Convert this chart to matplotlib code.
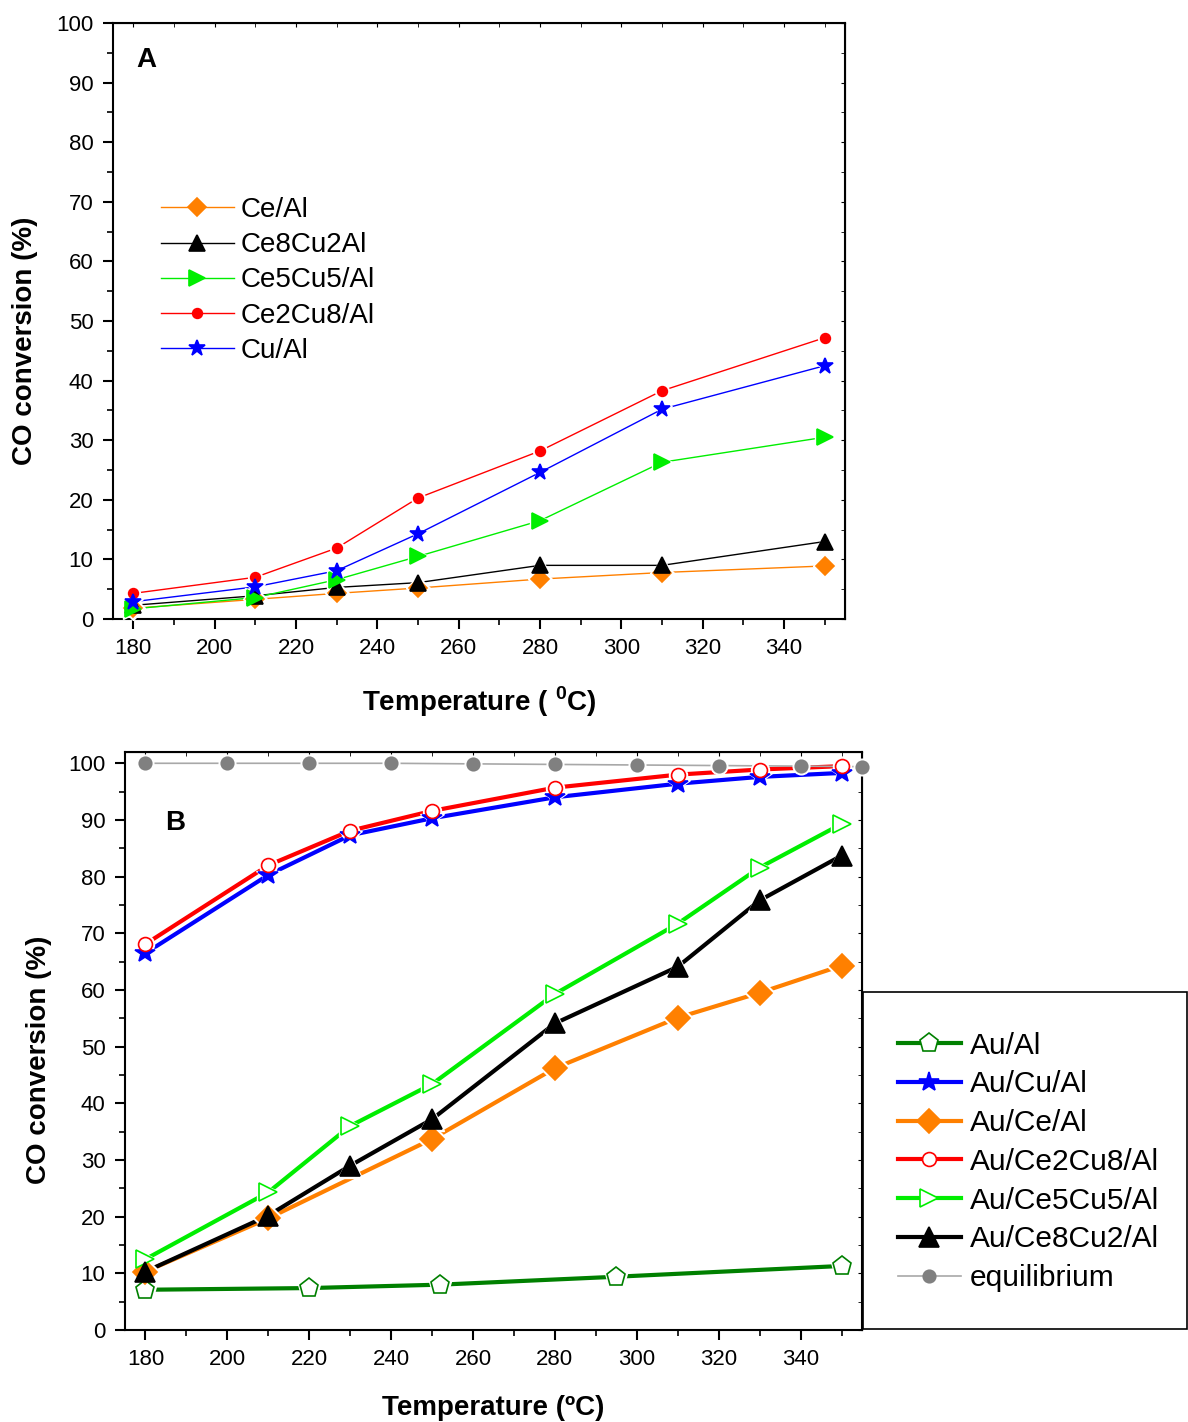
import matplotlib
matplotlib.use("Agg")
from matplotlib import pyplot as plt
from matplotlib.lines import Line2D
from matplotlib.patches import Rectangle
from matplotlib.ticker import MultipleLocator

plt.rcParams['font.family'] = ['Liberation Sans', 'DejaVu Sans']

# panel A
temp_a = [180, 210, 230, 250, 280, 310, 350]
ce_al = [1.8, 3.3, 4.3, 5.2, 6.7, 7.8, 8.9]
ce8cu2 = [2.3, 3.9, 5.3, 6.1, 9.0, 9.0, 13.0]
ce5cu5 = [1.7, 3.6, 6.6, 10.5, 16.5, 26.3, 30.5]
ce2cu8 = [4.3, 7.0, 11.9, 20.3, 28.2, 38.3, 47.2]
cu_al = [2.9, 5.4, 8.1, 14.3, 24.6, 35.2, 42.5]

# panel B
temp_b = [180, 210, 230, 250, 280, 310, 330, 350]
au_cu_al = [66.5, 80.3, 87.3, 90.3, 94.0, 96.4, 97.6, 98.3]
au_ce2cu8 = [68.1, 82.0, 88.1, 91.6, 95.7, 98.0, 98.9, 99.5]
au_ce5cu5 = [12.5, 24.3, 36.0, 43.4, 59.3, 71.7, 81.6, 89.3]
au_ce8cu2 = [10.3, 20.2, 29.0, 37.2, 54.1, 64.1, 75.8, 83.7]
temp_ce = [180, 210, 250, 280, 310, 330, 350]
au_ce_al = [10.3, 19.7, 33.7, 46.2, 55.1, 59.5, 64.3]
temp_au = [180, 220, 252, 295, 350]
au_al = [7.1, 7.4, 8.0, 9.4, 11.3]
temp_eq = [180, 200, 220, 240, 260, 280, 300, 320, 340, 355]
equilibrium = [100.0, 100.0, 100.0, 100.0, 99.9, 99.8, 99.7, 99.6, 99.5, 99.4]


def series(ax, x, y, color, marker, ms, lw, mfc=None, line_color=None):
    if mfc is None:
        mfc = color
    ax.plot(x, y, color=line_color or color, lw=lw, zorder=2, clip_on=False)
    ax.plot(x, y, ls='none', marker=marker, ms=ms + 3, mfc='white', mec='white',
            zorder=3, clip_on=False)
    ax.plot(x, y, ls='none', marker=marker, ms=ms, mfc=mfc, mec=color,
            mew=1.2, zorder=4, clip_on=False)
    return Line2D([], [], color=line_color or color, lw=lw, marker=marker, ms=ms,
                  mfc=mfc, mec=color, mew=1.2)


def style_axes(ax):
    ax.set_xlim(175, 355)
    ax.xaxis.set_major_locator(MultipleLocator(20))
    ax.xaxis.set_minor_locator(MultipleLocator(10))
    ax.yaxis.set_major_locator(MultipleLocator(10))
    ax.yaxis.set_minor_locator(MultipleLocator(5))
    ax.tick_params(which='major', direction='out', length=7, width=1.5,
                   labelsize=16, pad=7)
    ax.tick_params(which='minor', direction='out', length=4, width=1.2)
    for s in ax.spines.values():
        s.set_linewidth(1.5)
    sec = ax.secondary_xaxis('top')
    sec.xaxis.set_major_locator(MultipleLocator(20))
    sec.xaxis.set_minor_locator(MultipleLocator(10))
    sec.tick_params(which='both', direction='in', length=3, labeltop=False)
    sec.set_xticklabels([])
    secy = ax.secondary_yaxis('right')
    secy.yaxis.set_major_locator(MultipleLocator(10))
    secy.yaxis.set_minor_locator(MultipleLocator(5))
    secy.tick_params(which='both', direction='in', length=3, labelright=False)
    secy.set_yticklabels([])


fig = plt.figure(figsize=(11.88, 14.22), dpi=100)

# ---- A ----
ax1 = fig.add_axes([0.0951, 0.5647, 0.6162, 0.4191])
style_axes(ax1)
ax1.set_ylim(0, 100)
h = []
h.append(series(ax1, temp_a, ce_al, '#FF8000', 'D', 9, 1.0))
h.append(series(ax1, temp_a, ce8cu2, 'black', '^', 11, 1.0))
h.append(series(ax1, temp_a, ce5cu5, '#00EE00', '>', 11, 1.0))
h.append(series(ax1, temp_a, ce2cu8, '#FF0000', 'o', 7, 1.0))
h.append(series(ax1, temp_a, cu_al, '#0000FF', '*', 12, 1.0))
ax1.legend(h, ['Ce/Al', 'Ce8Cu2Al', 'Ce5Cu5/Al', 'Ce2Cu8/Al', 'Cu/Al'],
           loc='upper left', bbox_to_anchor=(0.066, 0.708), frameon=False,
           fontsize=20, handlelength=2.6, handletextpad=0.25, labelspacing=0.33,
           borderaxespad=0, borderpad=0)
ax1.text(0.046, 0.938, 'A', transform=ax1.transAxes, fontsize=20,
         fontweight='bold', ha='center', va='center')
ax1.set_xlabel('Temperature ( $^\\mathregular{0}$C)', fontsize=20,
               fontweight='bold', labelpad=18)
ax1.set_ylabel('CO conversion (%)', fontsize=20, fontweight='bold')
ax1.yaxis.set_label_coords(-0.102, 0.466)

# ---- B ----
ax2 = fig.add_axes([0.1052, 0.0647, 0.6204, 0.4065])
style_axes(ax2)
ax2.set_ylim(0, 102)
hb = []
hb.append(series(ax2, temp_au, au_al, '#008000', 'p', 14, 3.0, mfc='white'))
hb.append(series(ax2, temp_b, au_cu_al, '#0000FF', '*', 15, 3.0))
hb.append(series(ax2, temp_ce, au_ce_al, '#FF8000', 'D', 12, 3.0))
hb.append(series(ax2, temp_b, au_ce2cu8, '#FF0000', 'o', 10, 3.0, mfc='white'))
hb.append(series(ax2, temp_b, au_ce5cu5, '#00EE00', '>', 13, 3.0, mfc='white'))
hb.append(series(ax2, temp_b, au_ce8cu2, 'black', '^', 14, 3.0))
hb.insert(6, series(ax2, temp_eq, equilibrium, '#808080', 'o', 9, 1.2,
                    line_color='#A8A8A8'))
ax2.text(0.068, 0.877, 'B', transform=ax2.transAxes, fontsize=20,
         fontweight='bold', ha='center', va='center')
ax2.set_xlabel('Temperature (\u00baC)', fontsize=20, fontweight='bold', labelpad=18)
ax2.set_ylabel('CO conversion (%)', fontsize=20, fontweight='bold')
ax2.yaxis.set_label_coords(-0.099, 0.467)

fig.add_artist(Rectangle((0.7264, 0.0654), 0.2727, 0.237, transform=fig.transFigure,
                         fill=False, ec='black', lw=1.2))
fig.legend(hb, ['Au/Al', 'Au/Cu/Al', 'Au/Ce/Al', 'Au/Ce2Cu8/Al', 'Au/Ce5Cu5/Al',
                'Au/Ce8Cu2/Al', 'equilibrium'],
           loc='center left', bbox_to_anchor=(0.756, 0.183), frameon=False,
           fontsize=21.5, handlelength=2.1, handletextpad=0.3, labelspacing=0.36,
           borderaxespad=0, borderpad=0)

fig.savefig('out.png', dpi=100)
